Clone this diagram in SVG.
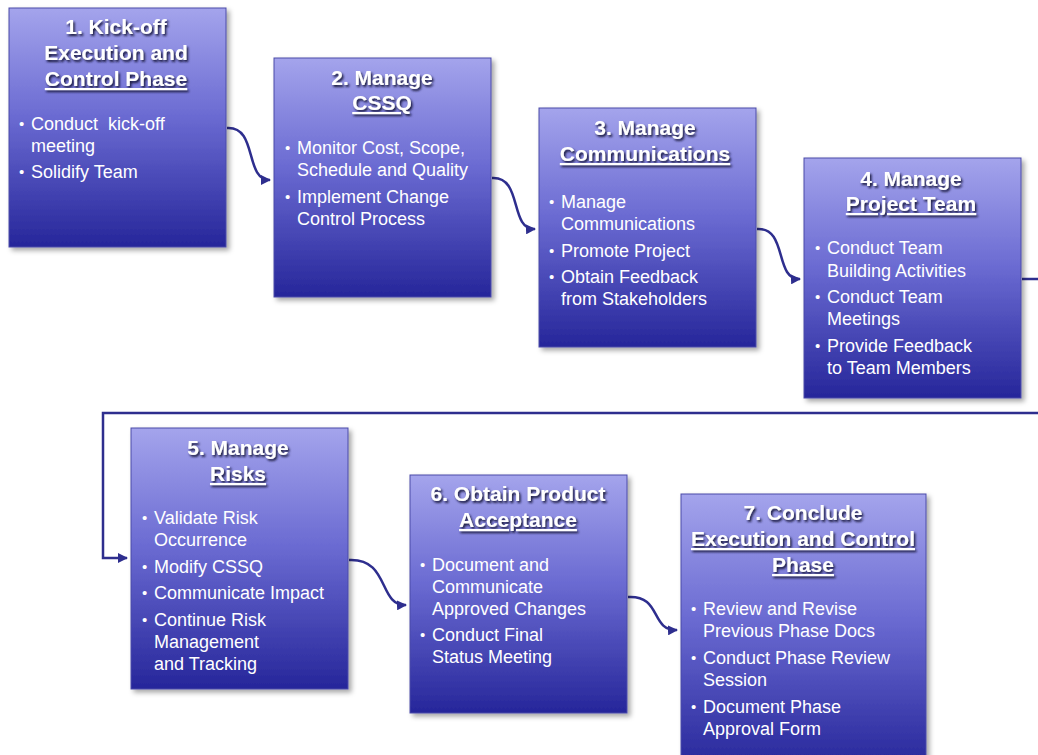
<svg xmlns="http://www.w3.org/2000/svg" width="1038" height="755" viewBox="0 0 1038 755">
<defs>
<linearGradient id="g" x1="0" y1="0" x2="0" y2="1">
<stop offset="0" stop-color="#a4a4ec"/>
<stop offset="0.45" stop-color="#6b6bd2"/>
<stop offset="1" stop-color="#26269a"/>
</linearGradient>
<filter id="bs" x="-10%" y="-10%" width="130%" height="130%">
<feDropShadow dx="3" dy="3" stdDeviation="2.5" flood-color="#000" flood-opacity="0.35"/>
</filter>
<filter id="ts" x="-10%" y="-20%" width="130%" height="150%">
<feDropShadow dx="1.5" dy="2" stdDeviation="1" flood-color="#141438" flood-opacity="1"/>
</filter>
<marker id="ah" viewBox="0 0 10 10" refX="9" refY="5" markerWidth="4" markerHeight="4" orient="auto">
<path d="M0,0 L10,5 L0,10 z" fill="#2e2e8e"/>
</marker>
</defs>
<style>
.box{fill:url(#g);stroke:#4a4aa8;stroke-width:1;filter:url(#bs)}
.t{font-family:"Liberation Sans",Arial,sans-serif;font-weight:bold;font-size:21px;fill:#fff;text-anchor:middle;filter:url(#ts)}
.u{text-decoration:underline}
.b{font-family:"Liberation Sans",Arial,sans-serif;font-size:18px;fill:#fff;white-space:pre}
.d{font-size:15px}
.c{fill:none;stroke:#2e2e8e;stroke-width:2.5}
</style>
<rect width="1038" height="755" fill="#fff"/>

<g id="connectors">
<path class="c" d="M227,128 C258,126 244,180 270,180" marker-end="url(#ah)"/>
<path class="c" d="M492,178 C523,176 509,230 535,229" marker-end="url(#ah)"/>
<path class="c" d="M757,229 C788,227 774,280 800,279" marker-end="url(#ah)"/>
<path class="c" d="M1022,279 L1040,279"/>
<path class="c" d="M1040,413 L103,413 L103,558 L127,558" marker-end="url(#ah)"/>
<path class="c" d="M349,560 C390,558 378,606 406,605" marker-end="url(#ah)"/>
<path class="c" d="M628,597 C662,595 650,631 677,630" marker-end="url(#ah)"/>
</g>

<g id="node1">
<rect class="box" x="9" y="8" width="217" height="239"/>
<text class="t" x="116" y="34">1. Kick-off</text>
<text class="t" x="116" y="60">Execution and</text>
<text class="t u" x="116" y="86">Control Phase</text>
<text class="b" x="19" y="129"><tspan class="d">•</tspan><tspan x="31" y="130">Conduct  kick-off</tspan></text>
<text class="b" x="31" y="152">meeting</text>
<text class="b" x="19" y="177"><tspan class="d">•</tspan><tspan x="31" y="178">Solidify Team</tspan></text>
</g>

<g id="node2">
<rect class="box" x="274" y="58" width="217" height="239"/>
<text class="t" x="382" y="85">2. Manage</text>
<text class="t u" x="382" y="110">CSSQ</text>
<text class="b" x="285" y="153"><tspan class="d">•</tspan><tspan x="297" y="154">Monitor Cost, Scope,</tspan></text>
<text class="b" x="297" y="176">Schedule and Quality</text>
<text class="b" x="285" y="202"><tspan class="d">•</tspan><tspan x="297" y="203">Implement Change</tspan></text>
<text class="b" x="297" y="225">Control Process</text>
</g>

<g id="node3">
<rect class="box" x="539" y="108" width="217" height="239"/>
<text class="t" x="645" y="135">3. Manage</text>
<text class="t u" x="645" y="161">Communications</text>
<text class="b" x="549" y="207"><tspan class="d">•</tspan><tspan x="561" y="208">Manage</tspan></text>
<text class="b" x="561" y="230">Communications</text>
<text class="b" x="549" y="256"><tspan class="d">•</tspan><tspan x="561" y="257">Promote Project</tspan></text>
<text class="b" x="549" y="282"><tspan class="d">•</tspan><tspan x="561" y="283">Obtain Feedback</tspan></text>
<text class="b" x="561" y="305">from Stakeholders</text>
</g>

<g id="node4">
<rect class="box" x="804" y="158" width="217" height="240"/>
<text class="t" x="911" y="186">4. Manage</text>
<text class="t u" x="911" y="211">Project Team</text>
<text class="b" x="815" y="253"><tspan class="d">•</tspan><tspan x="827" y="254">Conduct Team</tspan></text>
<text class="b" x="827" y="277">Building Activities</text>
<text class="b" x="815" y="302"><tspan class="d">•</tspan><tspan x="827" y="303">Conduct Team</tspan></text>
<text class="b" x="827" y="325">Meetings</text>
<text class="b" x="815" y="351"><tspan class="d">•</tspan><tspan x="827" y="352">Provide Feedback</tspan></text>
<text class="b" x="827" y="374">to Team Members</text>
</g>

<g id="node5">
<rect class="box" x="131" y="428" width="217" height="261"/>
<text class="t" x="238" y="455">5. Manage</text>
<text class="t u" x="238" y="481">Risks</text>
<text class="b" x="142" y="523"><tspan class="d">•</tspan><tspan x="154" y="524">Validate Risk</tspan></text>
<text class="b" x="154" y="546">Occurrence</text>
<text class="b" x="142" y="572"><tspan class="d">•</tspan><tspan x="154" y="573">Modify CSSQ</tspan></text>
<text class="b" x="142" y="598"><tspan class="d">•</tspan><tspan x="154" y="599">Communicate Impact</tspan></text>
<text class="b" x="142" y="625"><tspan class="d">•</tspan><tspan x="154" y="626">Continue Risk</tspan></text>
<text class="b" x="154" y="648">Management</text>
<text class="b" x="154" y="670">and Tracking</text>
</g>

<g id="node6">
<rect class="box" x="410" y="475" width="217" height="238"/>
<text class="t" x="518" y="501">6. Obtain Product</text>
<text class="t u" x="518" y="527">Acceptance</text>
<text class="b" x="420" y="570"><tspan class="d">•</tspan><tspan x="432" y="571">Document and</tspan></text>
<text class="b" x="432" y="593">Communicate</text>
<text class="b" x="432" y="615">Approved Changes</text>
<text class="b" x="420" y="640"><tspan class="d">•</tspan><tspan x="432" y="641">Conduct Final</tspan></text>
<text class="b" x="432" y="663">Status Meeting</text>
</g>

<g id="node7">
<rect class="box" x="681" y="494" width="245" height="275"/>
<text class="t" x="803" y="520">7. Conclude</text>
<text class="t u" x="803" y="546">Execution and Control</text>
<text class="t u" x="803" y="572">Phase</text>
<text class="b" x="691" y="614"><tspan class="d">•</tspan><tspan x="703" y="615">Review and Revise</tspan></text>
<text class="b" x="703" y="637">Previous Phase Docs</text>
<text class="b" x="691" y="663"><tspan class="d">•</tspan><tspan x="703" y="664">Conduct Phase Review</tspan></text>
<text class="b" x="703" y="686">Session</text>
<text class="b" x="691" y="712"><tspan class="d">•</tspan><tspan x="703" y="713">Document Phase</tspan></text>
<text class="b" x="703" y="735">Approval Form</text>
</g>
</svg>
